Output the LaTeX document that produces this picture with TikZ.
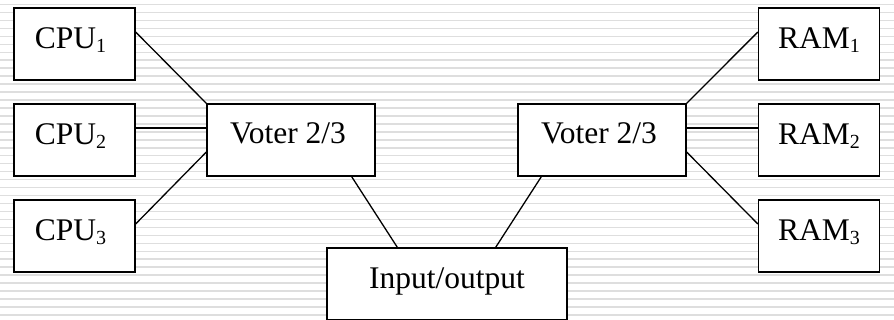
\documentclass[tikz,border=0pt]{standalone}
\usepackage{fontspec}
\setmainfont{Liberation Serif}
\newcommand{\sub}[1]{{\fontsize{20}{20}\selectfont\raisebox{-4.5pt}{#1}}}
\begin{document}
\begin{tikzpicture}[x=1pt,y=-1pt,
  box/.style={draw=black,line width=1.3pt,fill=white,inner sep=0pt},
  unit/.style={box,minimum width=121pt,minimum height=72pt},
  voter/.style={box,minimum width=168pt,minimum height=72pt},
  caption/.style={anchor=base,inner sep=0pt,font=\fontsize{31.5}{36}\selectfont},
  wire/.style={draw=black,line width=1.3pt}]
% page area and striped backdrop
\useasboundingbox (0,0) rectangle (894,320);
\fill[white] (0,0) rectangle (894,320);
\foreach \k in {0,...,39}
  \draw[line width=1.5pt,black!13] (0,{4.5+7.96*\k}) -- (894,{4.5+7.96*\k});

% processors
\node[unit] (cpu1) at (74.5,44) {};
\node[unit] (cpu2) at (74.5,140) {};
\node[unit] (cpu3) at (74.5,236) {};
% memories
\node[unit] (ram1) at (819,44) {};
\node[unit] (ram2) at (819,140) {};
\node[unit] (ram3) at (819,236) {};
% voters and I/O
\node[voter] (vl) at (291,140) {};
\node[voter] (vr) at (602,140) {};
\node[box,minimum width=240pt,minimum height=72pt] (io) at (447,284) {};

% connectors
\draw[wire] ([yshift=12pt]cpu1.east) -- (vl.north west);
\draw[wire] ([yshift=12pt]cpu2.east) -- ([yshift=12pt]vl.west);
\draw[wire] ([yshift=12pt]cpu3.east) -- ([yshift=-12pt]vl.west);
\draw[wire] (vr.north east) -- ([yshift=12pt]ram1.west);
\draw[wire] ([yshift=12pt]vr.east) -- ([yshift=12pt]ram2.west);
\draw[wire] ([yshift=-12pt]vr.east) -- ([yshift=12pt]ram3.west);
\draw[wire] ([xshift=-24pt]vl.south east) -- ([xshift=71pt]io.north west);
\draw[wire] ([xshift=-72pt]io.north east) -- ([xshift=24pt]vr.south west);

% labels
\node[caption] (tcpu1) at ([xshift=-4pt,yshift=-41pt]cpu1.north) {CPU\sub{1}};
\node[caption] (tcpu2) at ([xshift=-4pt,yshift=-41pt]cpu2.north) {CPU\sub{2}};
\node[caption] (tcpu3) at ([xshift=-4pt,yshift=-41pt]cpu3.north) {CPU\sub{3}};
\node[caption] (tram1) at ([yshift=-41pt]ram1.north) {RAM\sub{1}};
\node[caption] (tram2) at ([yshift=-41pt]ram2.north) {RAM\sub{2}};
\node[caption] (tram3) at ([yshift=-41pt]ram3.north) {RAM\sub{3}};
\node[caption] (tvl) at ([xshift=-3pt,yshift=-40pt]vl.north) {Voter 2/3};
\node[caption] (tvr) at ([xshift=-3pt,yshift=-40pt]vr.north) {Voter 2/3};
\node[caption] (tio) at ([yshift=-41pt]io.north) {Input/output};
\end{tikzpicture}
\end{document}
